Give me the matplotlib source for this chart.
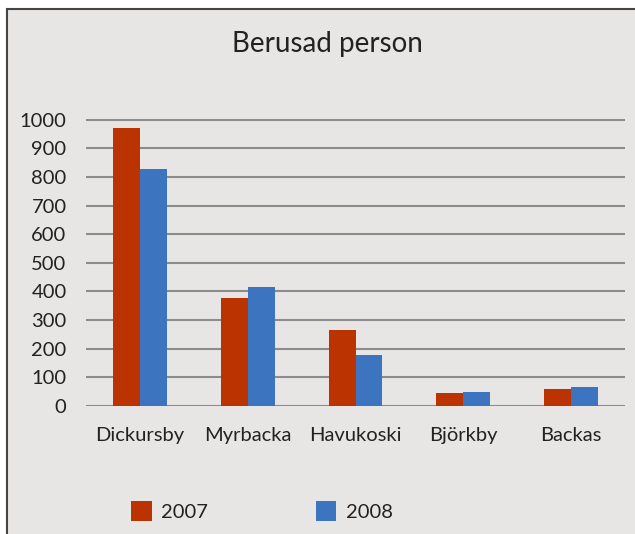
import matplotlib.pyplot as plt
from matplotlib.patches import Rectangle
import numpy as np

plt.rcParams['font.family'] = ['Lato', 'DejaVu Sans']

towns = ['Dickursby', 'Myrbacka', 'Havukoski', 'Björkby', 'Backas']
y2007 = [972, 376, 265, 45, 59]
y2008 = [829, 415, 178, 49, 66]
yticks = [0, 100, 200, 300, 400, 500, 600, 700, 800, 900, 1000]

bg = '#e8e6e4'
red = '#bb3300'
blue = '#3c74c0'

fig = plt.figure(figsize=(6.35, 5.34), dpi=100, facecolor='white')
# grey panel with a dark frame on top and left
fig.patches.append(Rectangle((6.5/635, -0.01), 1.0, 1 - 8.5/534 + 0.01,
                             transform=fig.transFigure, facecolor=bg,
                             edgecolor='#444444', linewidth=1.5, zorder=-1))

ax = fig.add_axes([86/635, 1 - 406/534, (625 - 86)/635, (406 - 119)/534])
ax.set_facecolor('none')

x = np.arange(len(towns))
w = 0.25
ax.bar(x - w/2, y2007, w, color=red, label='2007', zorder=3)
ax.bar(x + w/2, y2008, w, color=blue, label='2008', zorder=3)

ax.set_xlim(-0.5, len(towns) - 0.5)
ax.set_yticks(yticks)
ax.set_xticks(x)
ax.set_xticklabels(towns)
ax.yaxis.grid(True, color='#8c8c8c', linewidth=1.5, zorder=0)
ax.set_axisbelow(True)
for s in ax.spines.values():
    s.set_visible(False)
ax.tick_params(axis='both', length=0, labelsize=14.5, colors='#222222')
ax.tick_params(axis='y', pad=14)
ax.tick_params(axis='x', pad=15)
ax.set_ylim(0, 1002)

fig.text(327/635, 1 - 44/534, 'Berusad person', ha='center', va='center',
         fontsize=20, color='#222222')

fig.legend(loc='center', bbox_to_anchor=(262/635, 1 - 511/534), ncol=2,
           frameon=False, fontsize=14.5, handlelength=1.0, handleheight=1.2,
           handletextpad=0.45, columnspacing=5.4, labelcolor='#222222')

fig.savefig('out.png', dpi=100, facecolor=fig.get_facecolor())
